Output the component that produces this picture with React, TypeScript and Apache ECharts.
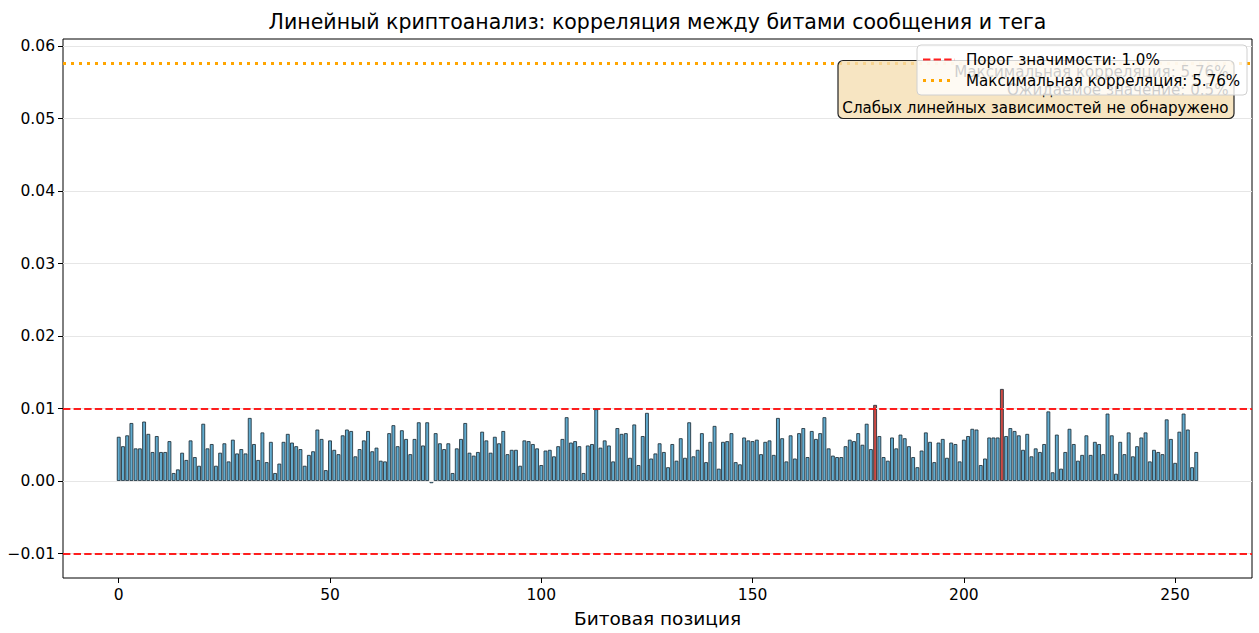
import React, { useEffect, useRef } from "react";
import * as echarts from "echarts";

const FONT = "DejaVu Sans";

const titleText = "Линейный криптоанализ: корреляция между битами сообщения и тега";
const xAxisName = "Битовая позиция";

// bit positions 0..255
const bitPositions: number[] = Array.from({ length: 256 }, (_, i) => i);

// correlation per bit
const correlations: number[] = [
  0.0061, 0.0048, 0.0063, 0.0080, 0.0045, 0.0045, 0.0082, 0.0065, 0.0040, 0.0062,
  0.0040, 0.0040, 0.0055, 0.0011, 0.0016, 0.0039, 0.0029, 0.0056, 0.0033, 0.0021,
  0.0079, 0.0045, 0.0051, 0.0021, 0.0039, 0.0052, 0.0027, 0.0057, 0.0038, 0.0044,
  0.0038, 0.0087, 0.0051, 0.0029, 0.0067, 0.0026, 0.0054, 0.0011, 0.0024, 0.0054,
  0.0065, 0.0053, 0.0048, 0.0044, 0.0021, 0.0036, 0.0041, 0.0071, 0.0058, 0.0015,
  0.0056, 0.0043, 0.0037, 0.0063, 0.0071, 0.0069, 0.0034, 0.0044, 0.0056, 0.0069,
  0.0041, 0.0046, 0.0028, 0.0027, 0.0066, 0.0077, 0.0048, 0.0070, 0.0058, 0.0037,
  0.0058, 0.0081, 0.0049, 0.0081, -0.0003, 0.0066, 0.0052, 0.0044, 0.0052, 0.0011,
  0.0045, 0.0058, 0.0080, 0.0039, 0.0035, 0.0040, 0.0068, 0.0056, 0.0039, 0.0061,
  0.0052, 0.0069, 0.0037, 0.0043, 0.0043, 0.0021, 0.0056, 0.0055, 0.0051, 0.0045,
  0.0022, 0.0042, 0.0043, 0.0034, 0.0048, 0.0058, 0.0088, 0.0053, 0.0055, 0.0048,
  0.0011, 0.0049, 0.0051, 0.0099, 0.0046, 0.0056, 0.0049, 0.0027, 0.0073, 0.0065,
  0.0066, 0.0032, 0.0078, 0.0022, 0.0062, 0.0094, 0.0031, 0.0038, 0.0052, 0.0040,
  0.0019, 0.0051, 0.0028, 0.0059, 0.0032, 0.0081, 0.0034, 0.0043, 0.0066, 0.0026,
  0.0054, 0.0076, 0.0017, 0.0054, 0.0055, 0.0066, 0.0026, 0.0023, 0.0060, 0.0056,
  0.0055, 0.0057, 0.0037, 0.0054, 0.0056, 0.0036, 0.0087, 0.0059, 0.0027, 0.0063,
  0.0031, 0.0066, 0.0073, 0.0033, 0.0069, 0.0058, 0.0066, 0.0088, 0.0045, 0.0035,
  0.0033, 0.0033, 0.0048, 0.0057, 0.0055, 0.0066, 0.0050, 0.0079, 0.0044, 0.0105,
  0.0062, 0.0033, 0.0028, 0.0060, 0.0045, 0.0064, 0.0059, 0.0048, 0.0033, 0.0019,
  0.0042, 0.0067, 0.0054, 0.0026, 0.0053, 0.0058, 0.0032, 0.0053, 0.0051, 0.0027,
  0.0057, 0.0062, 0.0072, 0.0071, 0.0022, 0.0031, 0.0060, 0.0060, 0.0060, 0.0127,
  0.0062, 0.0073, 0.0069, 0.0063, 0.0043, 0.0065, 0.0034, 0.0045, 0.0040, 0.0051,
  0.0096, 0.0012, 0.0064, 0.0017, 0.0040, 0.0072, 0.0051, 0.0028, 0.0036, 0.0063,
  0.0036, 0.0054, 0.0051, 0.0037, 0.0093, 0.0063, 0.0010, 0.0054, 0.0037, 0.0067,
  0.0034, 0.0048, 0.0060, 0.0067, 0.0027, 0.0043, 0.0040, 0.0037, 0.0085, 0.0058,
  0.0025, 0.0068, 0.0093, 0.0071, 0.0019, 0.0040,
];

const threshold = 0.01;
const maxCorrelation = 0.0576;

const yTicks: number[] = [-0.01, 0, 0.01, 0.02, 0.03, 0.04, 0.05, 0.06];
const xTicks: number[] = [0, 50, 100, 150, 200, 250];

const legendLabels: string[] = ["Порог значимости: 1.0%", "Максимальная корреляция: 5.76%"];
const annotationLines: string[] = [
  "Максимальная корреляция: 5.76%",
  "Ожидаемое значение: 0.5%",
  "Слабых линейных зависимостей не обнаружено",
];

const BAR_COLOR = "#62acd0";
const BAR_HIGH_COLOR = "#cd4a44";
const BAR_EDGE = "#1e2e38";
const RED = "rgba(255,0,0,0.88)";
const ORANGE = "#ffa500";
const SMALL = 15.1;

export default function App() {
  const ref = useRef<HTMLDivElement | null>(null);

  useEffect(() => {
    if (!ref.current) return;
    const chart = echarts.init(ref.current, undefined, { renderer: "svg" });

    const barData = bitPositions.map((p, i) => {
      const v = correlations[i];
      return {
        value: [p, v],
        itemStyle: { color: Math.abs(v) > threshold ? BAR_HIGH_COLOR : BAR_COLOR },
      };
    });

    const fmtY = (v: number) => (v < 0 ? "\u2212" : "") + Math.abs(v).toFixed(2);

    const option: any = {
      animation: false,
      backgroundColor: "#ffffff",
      textStyle: { fontFamily: FONT },
      grid: {
        left: 63,
        right: 7,
        top: 39,
        bottom: 52.5,
        show: true,
        borderColor: "#000",
        borderWidth: 1,
        backgroundColor: "transparent",
      },
      xAxis: {
        type: "value",
        min: -13.19,
        max: 268.19,
        axisLine: { show: false, onZero: false },
        splitLine: { show: false },
        axisTick: { show: true, customValues: xTicks, length: 5, lineStyle: { color: "#000" } },
        axisLabel: {
          customValues: xTicks,
          color: "#000",
          fontSize: 15.5,
          fontFamily: FONT,
          margin: 9,
        },
        name: xAxisName,
        nameLocation: "middle",
        nameGap: 31,
        nameTextStyle: { fontSize: 18.5, color: "#000", fontFamily: FONT },
      },
      yAxis: {
        type: "value",
        min: -0.01338,
        max: 0.06098,
        axisLine: { show: false, onZero: false },
        splitLine: { show: false },
        axisTick: { show: true, customValues: yTicks, length: 5, lineStyle: { color: "#000" } },
        axisLabel: {
          customValues: yTicks,
          color: "#000",
          fontSize: 15.5,
          fontFamily: FONT,
          margin: 8,
          formatter: fmtY,
        },
      },
      series: [
        {
          type: "line",
          data: [],
          z: 1,
          markLine: {
            silent: true,
            symbol: "none",
            precision: 8,
            label: { show: false },
            lineStyle: { color: "#e6e6e6", width: 1, type: "solid" },
            data: yTicks.map((v) => ({ yAxis: v })),
          },
        },
        {
          type: "bar",
          data: barData,
          barWidth: 3.8,
          z: 2,
          itemStyle: { borderColor: BAR_EDGE, borderWidth: 0.85 },
        },
        {
          type: "line",
          data: [],
          z: 3,
          markLine: {
            silent: true,
            symbol: "none",
            precision: 8,
            label: { show: false },
            data: [
              { yAxis: threshold, lineStyle: { color: RED, width: 2, type: [7.4, 3.2] } },
              { yAxis: -threshold, lineStyle: { color: RED, width: 2, type: [7.4, 3.2] } },
              { yAxis: maxCorrelation, lineStyle: { color: ORANGE, width: 3, type: [3, 5] } },
            ],
          },
        },
      ],
      graphic: [
        {
          type: "text",
          z: 30,
          x: 657.5,
          y: 22,
          style: {
            text: titleText,
            fill: "#000",
            fontSize: 20.5,
            fontFamily: FONT,
            align: "center",
            verticalAlign: "middle",
            textAlign: "center",
            textVerticalAlign: "middle",
          },
        },
        {
          type: "rect",
          z: 10,
          shape: { x: 838, y: 60.5, width: 396, height: 58, r: 5 },
          style: { fill: "rgba(245,222,179,0.8)", stroke: "#222", lineWidth: 1.2 },
        },
        ...annotationLines.map((t, i) => ({
          type: "text",
          z: 11,
          x: 1228.5,
          y: 71.5 + i * 18,
          style: {
            text: t,
            fill: "#000",
            fontSize: SMALL,
            fontFamily: FONT,
            align: "right",
            verticalAlign: "middle",
            textAlign: "right",
            textVerticalAlign: "middle",
          },
        })),
        {
          type: "rect",
          z: 20,
          shape: { x: 917, y: 45, width: 330, height: 50, r: 4 },
          style: { fill: "rgba(255,255,255,0.8)", stroke: "#d0d0d0", lineWidth: 1 },
        },
        {
          type: "line",
          z: 21,
          shape: { x1: 923, y1: 59.5, x2: 955, y2: 59.5 },
          style: { stroke: RED, lineWidth: 2, lineDash: [7.4, 3.2] },
        },
        {
          type: "line",
          z: 21,
          shape: { x1: 923, y1: 80.5, x2: 955, y2: 80.5 },
          style: { stroke: ORANGE, lineWidth: 3, lineDash: [3, 5] },
        },
        ...legendLabels.map((t, i) => ({
          type: "text",
          z: 21,
          x: 966,
          y: 59.5 + i * 21,
          style: {
            text: t,
            fill: "#000",
            fontSize: SMALL,
            fontFamily: FONT,
            align: "left",
            verticalAlign: "middle",
            textAlign: "left",
            textVerticalAlign: "middle",
          },
        })),
      ],
    };

    chart.setOption(option);
    return () => chart.dispose();
  }, []);

  return (
    <div
      ref={ref}
      style={{ position: "fixed", left: 0, top: 0, width: 1259, height: 633, background: "#fff" }}
    />
  );
}
